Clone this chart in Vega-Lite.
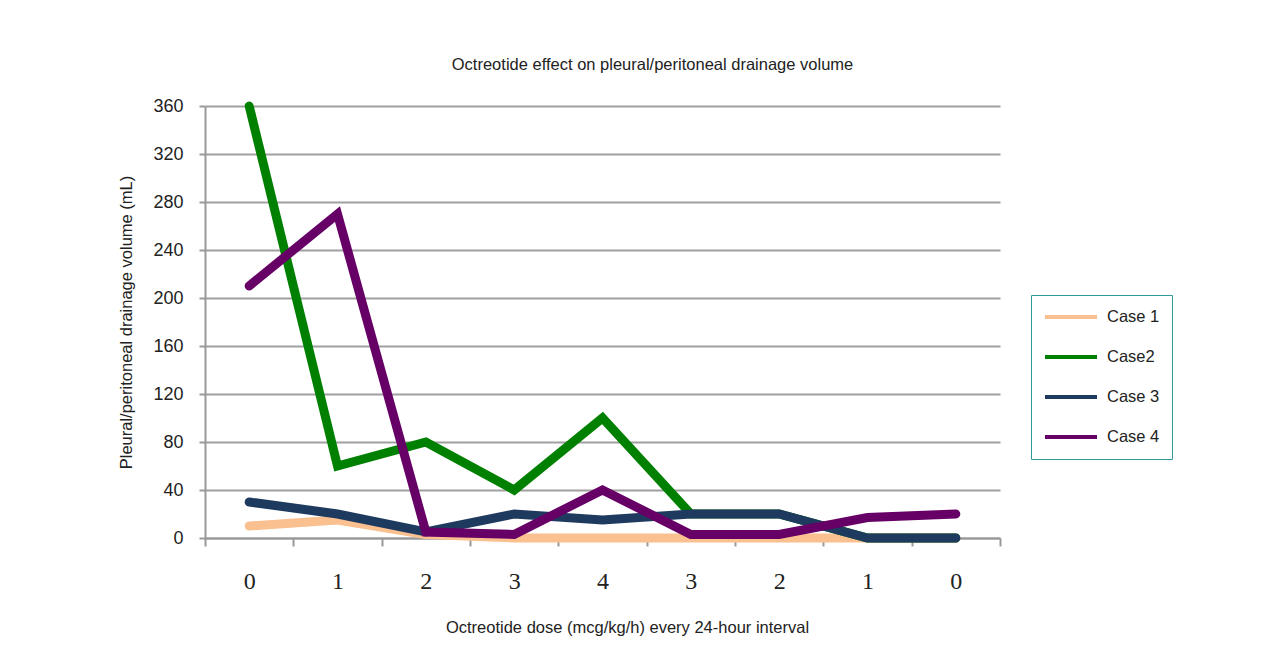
{
  "$schema": "https://vega.github.io/schema/vega-lite/v6.json",
  "width": 795,
  "height": 432,
  "autosize": {"type": "none"},
  "padding": {"left": 205, "top": 106, "right": 267, "bottom": 130},
  "background": "white",
  "title": {
    "text": "Octreotide effect on pleural/peritoneal drainage volume",
    "font": "Liberation Sans Narrow, Liberation Sans",
    "fontSize": 16.5,
    "fontWeight": "normal",
    "color": "#222222",
    "anchor": "middle",
    "dx": 50,
    "offset": 15
  },
  "data": {
    "values": [
      {"i": 1, "case": "Case 1", "v": 10}, {"i": 2, "case": "Case 1", "v": 15}, {"i": 3, "case": "Case 1", "v": 3},
      {"i": 4, "case": "Case 1", "v": 0}, {"i": 5, "case": "Case 1", "v": 0}, {"i": 6, "case": "Case 1", "v": 0},
      {"i": 7, "case": "Case 1", "v": 0}, {"i": 8, "case": "Case 1", "v": 0}, {"i": 9, "case": "Case 1", "v": 0},
      {"i": 1, "case": "Case2", "v": 360}, {"i": 2, "case": "Case2", "v": 60}, {"i": 3, "case": "Case2", "v": 80},
      {"i": 4, "case": "Case2", "v": 40}, {"i": 5, "case": "Case2", "v": 100}, {"i": 6, "case": "Case2", "v": 20},
      {"i": 7, "case": "Case2", "v": 20}, {"i": 8, "case": "Case2", "v": 0}, {"i": 9, "case": "Case2", "v": 0},
      {"i": 1, "case": "Case 3", "v": 30}, {"i": 2, "case": "Case 3", "v": 20}, {"i": 3, "case": "Case 3", "v": 5},
      {"i": 4, "case": "Case 3", "v": 20}, {"i": 5, "case": "Case 3", "v": 15}, {"i": 6, "case": "Case 3", "v": 20},
      {"i": 7, "case": "Case 3", "v": 20}, {"i": 8, "case": "Case 3", "v": 0}, {"i": 9, "case": "Case 3", "v": 0},
      {"i": 1, "case": "Case 4", "v": 210}, {"i": 2, "case": "Case 4", "v": 270}, {"i": 3, "case": "Case 4", "v": 5},
      {"i": 4, "case": "Case 4", "v": 3}, {"i": 5, "case": "Case 4", "v": 40}, {"i": 6, "case": "Case 4", "v": 3},
      {"i": 7, "case": "Case 4", "v": 3}, {"i": 8, "case": "Case 4", "v": 17}, {"i": 9, "case": "Case 4", "v": 20}
    ]
  },
  "mark": {"type": "line", "strokeWidth": 9, "strokeCap": "round", "strokeJoin": "miter", "clip": false},
  "encoding": {
    "x": {
      "field": "i",
      "type": "ordinal",
      "bandPosition": 0.5,
      "scale": {"type": "band", "paddingInner": 0, "paddingOuter": 0},
      "axis": {
        "title": "Octreotide dose (mcg/kg/h) every 24-hour interval",
        "labelExpr": "['0','1','2','3','4','3','2','1','0'][datum.value-1]",
        "labelAngle": 0,
        "labelFont": "Liberation Serif",
        "labelFontSize": 24,
        "labelColor": "#222222",
        "labelPadding": 23,
        "tickBand": "extent",
        "tickSize": 8,
        "tickColor": "#999999",
        "tickWidth": 2,
        "domainColor": "#999999",
        "domainWidth": 2,
        "grid": false,
        "titleFont": "Liberation Sans Narrow, Liberation Sans",
        "titleFontSize": 16.5,
        "titleFontWeight": "normal",
        "titleColor": "#222222",
        "titlePadding": 26,
        "titleX": 422
      }
    },
    "y": {
      "field": "v",
      "type": "quantitative",
      "scale": {"domain": [0, 360], "nice": false},
      "axis": {
        "title": "Pleural/peritoneal drainage volume (mL)",
        "values": [0, 40, 80, 120, 160, 200, 240, 280, 320, 360],
        "labelFont": "Liberation Sans Narrow, Liberation Sans",
        "labelFontSize": 18,
        "labelColor": "#222222",
        "labelPadding": 16,
        "tickSize": 6,
        "tickColor": "#999999",
        "tickWidth": 2,
        "domainColor": "#999999",
        "domainWidth": 2,
        "grid": true,
        "gridColor": "#A0A0A0",
        "gridWidth": 2,
        "titleFont": "Liberation Sans Narrow, Liberation Sans",
        "titleFontSize": 16.5,
        "titleFontWeight": "normal",
        "titleColor": "#222222",
        "titlePadding": 18
      }
    },
    "color": {
      "field": "case",
      "type": "nominal",
      "scale": {
        "domain": ["Case 1", "Case2", "Case 3", "Case 4"],
        "range": ["#FAC090", "#008000", "#1F3A5F", "#660066"]
      },
      "legend": {
        "title": null,
        "orient": "none",
        "legendX": 826,
        "legendY": 189,
        "symbolType": "stroke",
        "symbolSize": 2704,
        "symbolStrokeWidth": 4,
        "labelFont": "Liberation Sans Narrow, Liberation Sans",
        "labelFontSize": 16.5,
        "labelColor": "#222222",
        "labelOffset": 8,
        "clipHeight": 20,
        "rowPadding": 20,
        "padding": 12,
        "strokeColor": "#339999",
        "cornerRadius": 0
      }
    }
  },
  "config": {
    "view": {"stroke": null}
  }
}
